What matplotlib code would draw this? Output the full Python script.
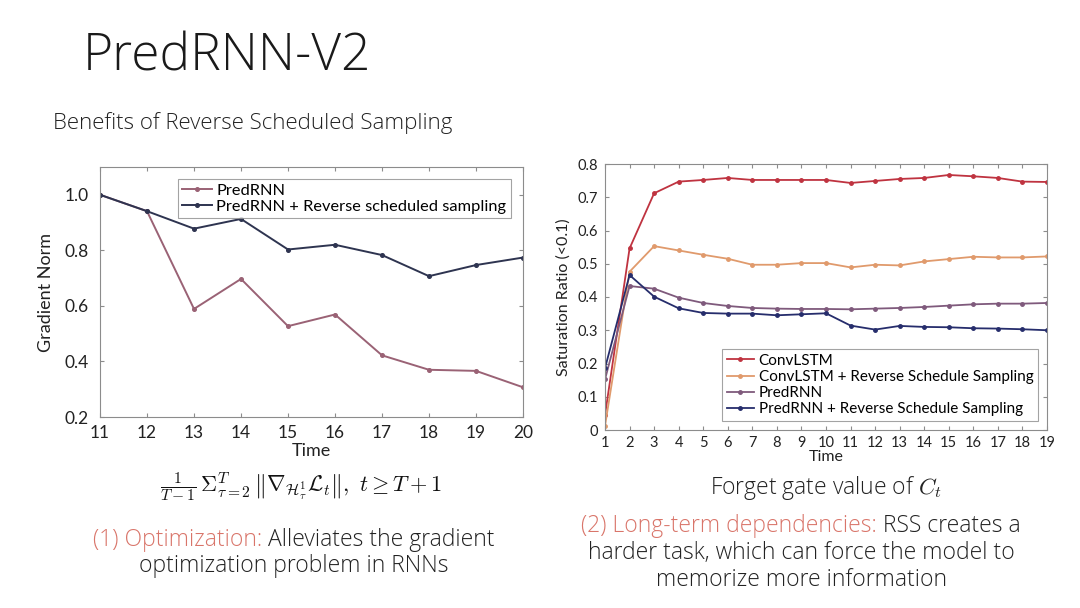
import matplotlib
matplotlib.use("Agg")
import matplotlib.pyplot as plt

plt.rcParams['font.family'] = ['Lato', 'DejaVu Sans']
plt.rcParams['mathtext.fontset'] = 'cm'

# left chart: gradient norm over time
time_left = [11, 12, 13, 14, 15, 16, 17, 18, 19, 20]
predrnn_grad = [1.0, 0.941, 0.589, 0.697, 0.527, 0.569, 0.422, 0.370, 0.366, 0.307]
rss_grad = [1.0, 0.941, 0.878, 0.913, 0.803, 0.820, 0.783, 0.707, 0.747, 0.774]

# right chart: saturation ratio of forget gate
time_right = list(range(1, 20))
convlstm = [0.045, 0.546, 0.712, 0.747, 0.752, 0.758, 0.752, 0.752, 0.752, 0.752,
            0.743, 0.749, 0.755, 0.758, 0.767, 0.763, 0.758, 0.747, 0.746]
convlstm_rss = [0.012, 0.476, 0.553, 0.540, 0.527, 0.515, 0.497, 0.497, 0.502, 0.502,
                0.489, 0.497, 0.495, 0.507, 0.514, 0.521, 0.519, 0.519, 0.522]
predrnn_sat = [0.152, 0.433, 0.425, 0.398, 0.382, 0.373, 0.367, 0.365, 0.364, 0.364,
               0.363, 0.365, 0.367, 0.370, 0.374, 0.378, 0.380, 0.380, 0.382]
predrnn_rss_sat = [0.186, 0.466, 0.401, 0.366, 0.352, 0.350, 0.350, 0.345, 0.348, 0.351,
                   0.314, 0.302, 0.313, 0.310, 0.309, 0.306, 0.305, 0.303, 0.300]

fig = plt.figure(figsize=(10.8, 6.08), dpi=100)
fig.patch.set_facecolor('white')

title_font = ['Open Sans', 'Lato', 'DejaVu Sans']
fig.text(83 / 1080, 1 - 57 / 608, "PredRNN-V2", fontsize=37, family=title_font,
         fontweight='light', color='#1a1a1a', va='center', ha='left')
fig.text(53 / 1080, 1 - 123 / 608, "Benefits of Reverse Scheduled Sampling", fontsize=16,
         family=title_font, fontweight='light', color='#222222', va='center', ha='left')


def style_axes(ax, size):
    for sp in ax.spines.values():
        sp.set_color('#8c8c8c')
        sp.set_linewidth(0.8)
    ax.tick_params(direction='in', top=True, right=True, length=3, color='#8c8c8c',
                   labelsize=size, labelcolor='#222222', pad=3)


# ---- left chart
ax1 = fig.add_axes([100 / 1080, 1 - 417 / 608, 423 / 1080, 250 / 608])
ax1.plot(time_left, predrnn_grad, color='#9a6275', lw=1.4, marker='o', ms=2.6,
         label='PredRNN')
ax1.plot(time_left, rss_grad, color='#2e3450', lw=1.4, marker='o', ms=2.6,
         label='PredRNN + Reverse scheduled sampling')
ax1.set_xlim(11, 20)
ax1.set_ylim(0.2, 1.1)
ax1.set_xticks(time_left)
ax1.set_yticks([0.2, 0.4, 0.6, 0.8, 1.0])
ax1.set_yticklabels(['0.2', '0.4', '0.6', '0.8', '1.0'])
style_axes(ax1, 12.5)
ax1.tick_params(axis='y', pad=8)
ax1.tick_params(axis='x', pad=6)
ax1.set_xlabel('Time', fontsize=13, labelpad=1, color='#222222')
ax1.set_ylabel('Gradient Norm', fontsize=13, labelpad=8, color='#222222')
leg1 = ax1.legend(loc='upper right', bbox_to_anchor=(0.99, 0.985), fontsize=11.8,
                  frameon=True, fancybox=False, edgecolor='#8c8c8c', handlelength=1.8,
                  handletextpad=0.3, borderpad=0.25, labelspacing=0.1)
leg1.get_frame().set_linewidth(0.8)

# ---- right chart
ax2 = fig.add_axes([605 / 1080, 1 - 430 / 608, 442 / 1080, 266 / 608])
ax2.plot(time_right, convlstm, color='#bf3340', lw=1.3, marker='o', ms=2.5,
         label='ConvLSTM')
ax2.plot(time_right, convlstm_rss, color='#e09a6c', lw=1.3, marker='o', ms=2.5,
         label='ConvLSTM + Reverse Schedule Sampling')
ax2.plot(time_right, predrnn_sat, color='#7f5a7c', lw=1.3, marker='o', ms=2.5,
         label='PredRNN')
ax2.plot(time_right, predrnn_rss_sat, color='#262d6c', lw=1.3, marker='o', ms=2.5,
         label='PredRNN + Reverse Schedule Sampling')
ax2.set_xlim(1, 19)
ax2.set_ylim(0, 0.8)
ax2.set_xticks(time_right)
ax2.set_yticks([0, 0.1, 0.2, 0.3, 0.4, 0.5, 0.6, 0.7, 0.8])
ax2.set_yticklabels(['0', '0.1', '0.2', '0.3', '0.4', '0.5', '0.6', '0.7', '0.8'])
style_axes(ax2, 10.5)
ax2.tick_params(axis='y', pad=5)
ax2.tick_params(axis='x', pad=4)
ax2.set_xlabel('Time', fontsize=11.5, labelpad=0, color='#222222')
ax2.set_ylabel('Saturation Ratio (<0.1)', fontsize=11.5, labelpad=5, color='#222222')
leg2 = ax2.legend(loc='lower right', bbox_to_anchor=(0.997, 0.005), fontsize=11,
                  frameon=True, fancybox=False, edgecolor='#8c8c8c', handlelength=1.8,
                  handletextpad=0.3, borderpad=0.3, labelspacing=0.15)
leg2.get_frame().set_linewidth(0.8)

# ---- formula / captions
fig.text(301 / 1080, 1 - 487 / 608,
         r'$\frac{1}{T-1}\,\Sigma_{\tau=2}^{T}\,\left\Vert\nabla_{\mathcal{H}_\tau^1}\mathcal{L}_t\right\Vert,\ t\geq T+1$',
         fontsize=16, ha='center', va='center', color='#111111')
fig.text(826 / 1080, 1 - 488 / 608, r'Forget gate value of $\mathit{C_t}$', fontsize=16.5,
         family=title_font, fontweight='light', ha='center', va='center', color='#222222')

accent = '#d9756a'
renderer = fig.canvas.get_renderer()


def colored_line(cx, cy, parts, size):
    # parts: list of (text, color); laid out left to right and centered at cx
    texts = []
    x = 0.0
    for s, c in parts:
        t = fig.text(0, cy / 608, s, fontsize=size, color=c, family=title_font,
                     fontweight='light', ha='left', va='center')
        w = t.get_window_extent(renderer=renderer).width
        texts.append((t, x))
        x += w
    start = cx - x / 2
    for t, off in texts:
        t.set_x((start + off) / 1080)


colored_line(294, 608 - 540, [('(1) Optimization:', accent),
                              (' Alleviates the gradient', '#222222')], 16.5)
colored_line(294, 608 - 566, [('optimization problem in RNNs', '#222222')], 16.5)
colored_line(801, 608 - 526, [('(2) Long-term dependencies:', accent),
                              (' RSS creates a', '#222222')], 16.5)
colored_line(801, 608 - 553, [('harder task, which can force the model to', '#222222')], 16.5)
colored_line(801, 608 - 580, [('memorize more information', '#222222')], 16.5)

fig.savefig('out.png', dpi=100, facecolor='white')
